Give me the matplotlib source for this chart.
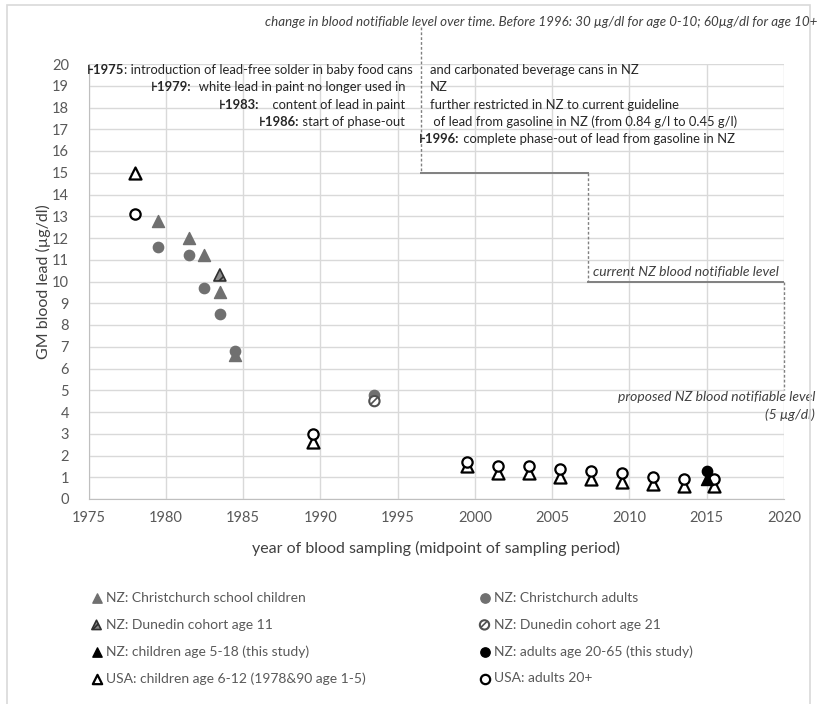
"""
GM blood lead over time in NZ and USA, with notifiable levels and regulation events.
"""

import matplotlib
matplotlib.use('Agg')
import matplotlib.pyplot as plt
from matplotlib.patches import Rectangle

plt.rcParams['font.family'] = ['Lato', 'DejaVu Sans']
plt.rcParams['hatch.linewidth'] = 1.2

# ---- data ----
usa_child_years = [1978.0, 1989.5, 1999.5, 2001.5, 2003.5, 2005.5, 2007.5, 2009.5, 2011.5, 2013.5, 2015.5]
usa_child_lead = [15.0, 2.6, 1.5, 1.2, 1.2, 1.0, 0.9, 0.8, 0.7, 0.6, 0.6]
usa_adult_years = [1978.0, 1989.5, 1999.5, 2001.5, 2003.5, 2005.5, 2007.5, 2009.5, 2011.5, 2013.5, 2015.5]
usa_adult_lead = [13.1, 3.0, 1.7, 1.5, 1.5, 1.4, 1.3, 1.2, 1.0, 0.9, 0.9]

chch_child_years = [1979.5, 1981.5, 1982.5, 1983.5, 1984.5]
chch_child_lead = [12.8, 12.0, 11.2, 9.5, 6.6]
chch_adult_years = [1979.5, 1981.5, 1982.5, 1983.5, 1984.5, 1993.5]
chch_adult_lead = [11.6, 11.2, 9.7, 8.5, 6.8, 4.8]

dunedin11_years = [1983.5]
dunedin11_lead = [10.3]
dunedin21_years = [1993.5]
dunedin21_lead = [4.5]

study_child_years = [2015.0]
study_child_lead = [0.9]
study_adult_years = [2015.0]
study_adult_lead = [1.3]

# notifiable level steps (first value is the off-chart pre-1996 level)
level_change_years = [1996.5, 2007.3, 2020.0]
level_values = [21.7, 15, 10, 5]

# event notes: (bold part, rest, right-column text)
events = [
    ('⊦1975', ': introduction of lead-free solder in baby food cans', 'and carbonated beverage cans in NZ'),
    ('⊦1979:', '  white lead in paint no longer used in', 'NZ'),
    ('⊦1983:', '    content of lead in paint', 'further restricted in NZ to current guideline'),
    ('⊦1986:', ' start of phase-out', ' of lead from gasoline in NZ (from 0.84 g/l to 0.45 g/l)'),
    ('⊦1996:', ' complete phase-out of lead from gasoline in NZ', ''),
]

W, H = 821, 704


def fx(x):
    return x / W


def fy(y):
    return 1 - y / H


fig = plt.figure(figsize=(W / 100, H / 100), dpi=100)
fig.patches.append(Rectangle((fx(7), -0.05), fx(810) - fx(7), fy(5) + 0.05,
                             transform=fig.transFigure, fill=False,
                             edgecolor='#d9d9d9', lw=1.2))

ax = fig.add_axes([fx(88.5), fy(499), fx(784) - fx(88.5), (499 - 64) / H])
ax.set_xlim(1975, 2020)
ax.set_ylim(0, 20)
ax.set_xticks(range(1975, 2021, 5))
ax.set_yticks(range(0, 21))
ax.grid(True, color='#d9d9d9', lw=1)
ax.set_axisbelow(True)
for s in ['top', 'right']:
    ax.spines[s].set_visible(False)
for s in ['left', 'bottom']:
    ax.spines[s].set_color('#bfbfbf')
ax.tick_params(length=0, labelsize=10.5, labelcolor='#595959')
ax.tick_params(axis='y', pad=14)
ax.tick_params(axis='x', pad=9)
ax.set_xlabel('year of blood sampling (midpoint of sampling period)', fontsize=11.5, color='#404040', labelpad=11)
ax.set_ylabel('GM blood lead (µg/dl)', fontsize=11.5, color='#404040', labelpad=1)

# notifiable level step line
line_c = '#808080'
for i, xv in enumerate(level_change_years):
    ax.plot([xv, xv], [level_values[i], level_values[i + 1]], color=line_c, lw=1,
            ls=(0, (2, 1.5)), clip_on=False)
    if i + 1 < len(level_change_years):
        ax.plot([xv, level_change_years[i + 1]], [level_values[i + 1]] * 2, color=line_c, lw=1.4)

gray = '#707070'
tri_s, circ_s = 75, 55
sc_chch_c = ax.scatter(chch_child_years, chch_child_lead, marker='^', s=tri_s, color=gray, zorder=3,
                       label='NZ: Christchurch school children')
sc_chch_a = ax.scatter(chch_adult_years, chch_adult_lead, marker='o', s=circ_s, color=gray, zorder=3,
                       label='NZ: Christchurch adults')
sc_dun11 = ax.scatter(dunedin11_years, dunedin11_lead, marker='^', s=tri_s, facecolor='#8a8a8a',
                      edgecolor='#303030', hatch='///', lw=1.2, zorder=4, label='NZ: Dunedin cohort age 11')
sc_dun21 = ax.scatter(dunedin21_years, dunedin21_lead, marker='o', s=circ_s, facecolor='white',
                      edgecolor='#505050', hatch='////', lw=1.5, zorder=4, label='NZ: Dunedin cohort age 21')
sc_nz_c = ax.scatter(study_child_years, study_child_lead, marker='^', s=tri_s, color='black', zorder=5,
                     label='NZ: children age 5-18 (this study)')
sc_nz_a = ax.scatter(study_adult_years, study_adult_lead, marker='o', s=circ_s, color='black', zorder=5,
                     label='NZ: adults age 20-65 (this study)')
sc_usa_c = ax.scatter(usa_child_years, usa_child_lead, marker='^', s=tri_s, facecolor='white',
                      edgecolor='black', lw=1.6, zorder=3, label='USA: children age 6-12 (1978&90 age 1-5)')
sc_usa_a = ax.scatter(usa_adult_years, usa_adult_lead, marker='o', s=circ_s, facecolor='white',
                      edgecolor='black', lw=1.6, zorder=4, label='USA: adults 20+')

# notes on notifiable levels
note_kw = dict(style='italic', fontsize=10, color='#404040')
ax.text(2019.7, 10.45, 'current NZ blood notifiable level', ha='right', va='center', **note_kw)
ax.text(2022.0, 4.69, 'proposed NZ blood notifiable level', ha='right', va='center', **note_kw)
ax.text(2022.0, 3.86, '(5 µg/dl)', ha='right', va='center', **note_kw)
fig.text(fx(817), fy(22), 'change in blood notifiable level over time. Before 1996: 30 µg/dl for age 0-10; '
         '60µg/dl for age 10+', ha='right', va='center', style='italic', fontsize=9.6, color='#404040')

# regulation events
ev_kw = dict(fontsize=9.4, color='#262626')
row_y = [70, 87, 105, 122, 139]
for i, (bold, rest, right) in enumerate(events):
    y = fy(row_y[i])
    if i == 0 or i == 4:
        x0 = 87 if i == 0 else 419
        b = fig.text(fx(x0), y, bold, ha='left', va='center', fontweight='bold', **ev_kw)
        ax.annotate(rest, xy=(1, 0.5), xycoords=b, ha='left', va='center', **ev_kw)
    else:
        r = fig.text(fx(405), y, rest, ha='right', va='center', **ev_kw)
        ax.annotate(bold, xy=(0, 0.5), xycoords=r, ha='right', va='center', fontweight='bold', **ev_kw)
    if right:
        fig.text(fx(430), y, right, ha='left', va='center', **ev_kw)

# legends in two columns
leg_kw = dict(frameon=False, fontsize=10, labelcolor='#595959', handletextpad=0.3,
              labelspacing=1.05, handlelength=0.8, scatterpoints=1, borderpad=0, loc='upper left')
leg1 = fig.legend(handles=[sc_chch_c, sc_dun11, sc_nz_c, sc_usa_c], bbox_to_anchor=(fx(84), fy(585)), **leg_kw)
leg2 = fig.legend(handles=[sc_chch_a, sc_dun21, sc_nz_a, sc_usa_a], bbox_to_anchor=(fx(472), fy(585)), **leg_kw)
for leg in (leg1, leg2):
    for h in leg.legend_handles:
        h.set_sizes([45])

fig.savefig('out.png', dpi=100)
